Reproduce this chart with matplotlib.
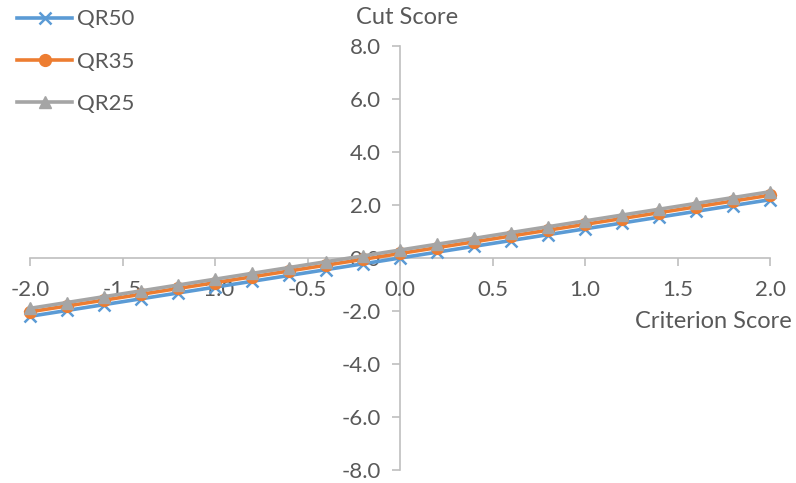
import numpy as np
import matplotlib
matplotlib.use("Agg")
import matplotlib.pyplot as plt

plt.rcParams["font.family"] = ["Lato", "DejaVu Sans"]

# criterion score (x) and cut scores for each quantile regression line
criterion = [-2.0, -1.8, -1.6, -1.4, -1.2, -1.0, -0.8, -0.6, -0.4, -0.2, 0.0,
             0.2, 0.4, 0.6, 0.8, 1.0, 1.2, 1.4, 1.6, 1.8, 2.0]
qr50 = [-2.20, -1.98, -1.76, -1.54, -1.32, -1.10, -0.88, -0.66, -0.44, -0.22, 0.00,
        0.22, 0.44, 0.66, 0.88, 1.10, 1.32, 1.54, 1.76, 1.98, 2.20]
qr35 = [-2.03, -1.81, -1.59, -1.37, -1.15, -0.93, -0.71, -0.49, -0.27, -0.05, 0.17,
        0.39, 0.61, 0.83, 1.05, 1.27, 1.49, 1.71, 1.93, 2.15, 2.37]
qr25 = [-1.90, -1.68, -1.46, -1.24, -1.02, -0.80, -0.58, -0.36, -0.14, 0.08, 0.30,
        0.52, 0.74, 0.96, 1.18, 1.40, 1.62, 1.84, 2.06, 2.28, 2.50]

xticks = [-2.0, -1.5, -1.0, -0.5, 0.0, 0.5, 1.0, 1.5, 2.0]
yticks = [-8.0, -6.0, -4.0, -2.0, 0.0, 2.0, 4.0, 6.0, 8.0]

text_col = "#595959"
axis_col = "#BFBFBF"

fig = plt.figure(figsize=(7.96, 4.83), dpi=100)
ax = fig.add_axes([30 / 796, 1 - 470 / 483, 740 / 796, 424 / 483])

ax.plot(criterion, qr50, color="#5B9BD5", lw=2.6, marker="x", ms=8, mew=1.8,
        label="QR50", zorder=3, clip_on=False)
ax.plot(criterion, qr35, color="#ED7D31", lw=2.6, marker="o", ms=8.5,
        label="QR35", zorder=4, clip_on=False)
ax.plot(criterion, qr25, color="#A5A5A5", lw=2.6, marker="^", ms=9,
        label="QR25", zorder=5, clip_on=False)

ax.set_xlim(-2, 2)
ax.set_ylim(-8, 8)

for s in ["top", "right"]:
    ax.spines[s].set_visible(False)
ax.spines["left"].set_position(("data", 0))
ax.spines["bottom"].set_position(("data", 0))
for s in ["left", "bottom"]:
    ax.spines[s].set_color(axis_col)
    ax.spines[s].set_linewidth(1.2)
    ax.spines[s].set_zorder(1)

ax.set_xticks(xticks)
ax.set_xticklabels([f"{v:.1f}" for v in xticks])
ax.set_yticks(yticks)
ax.set_yticklabels([f"{v:.1f}" for v in yticks])
ax.tick_params(axis="x", direction="out", length=6, width=1.2, color=axis_col,
               labelsize=16, labelcolor=text_col, pad=10)
ax.tick_params(axis="y", direction="out", length=6, width=1.2, color=axis_col,
               labelsize=16, labelcolor=text_col, pad=8)

fig.text(407 / 796, 1 - 18 / 483, "Cut Score", ha="center", va="center",
         fontsize=17, color=text_col)
fig.text(792 / 796, 1 - 322 / 483, "Criterion Score", ha="right", va="center",
         fontsize=17, color=text_col)

fig.legend(loc="upper left", bbox_to_anchor=(0.005, 1.008), frameon=False,
           fontsize=16, labelcolor=text_col, handlelength=2.45,
           handletextpad=0.25, labelspacing=1.0, borderaxespad=0.2)

fig.savefig("out.png", dpi=100)
